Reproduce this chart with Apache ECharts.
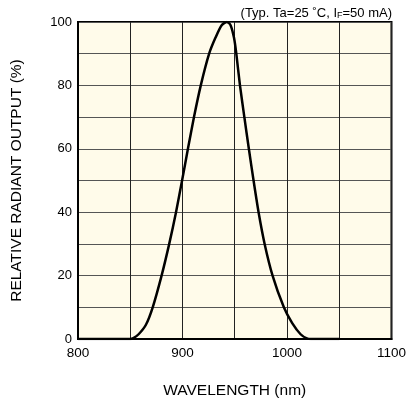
<!DOCTYPE html>
<html>
<head>
<meta charset="utf-8">
<script src="https://cdn.jsdelivr.net/npm/echarts@6/dist/echarts.min.js"></script>
<style>html,body{margin:0;padding:0;background:#fff}#c{width:409px;height:404px}</style>
</head>
<body>
<div id="c"></div>
<script>
var wavelengths = [800, 850, 853, 858, 865, 871.5, 880, 887.3, 893.8, 899.6, 905.2, 911, 917.5, 925.5, 931.5, 937.5, 942.5, 946, 949.3, 951.5, 955, 959.2, 963.5, 968, 972.8, 978.6, 986.2, 997, 1005, 1013, 1019, 1023, 1050];
var output = [0, 0, 0.3, 1.5, 4.5, 10, 20, 30, 40, 50, 60, 70, 80, 90, 95, 99, 100, 99, 95, 90, 80, 70, 60, 50, 40, 30, 20, 10, 5, 1.5, 0.2, 0, 0];
var xTicks = [800, 900, 1000, 1100];
var yTicks = [0, 20, 40, 60, 80, 100];

var pts = wavelengths.map(function (w, i) { return [w, output[i]]; });
var font = '"Liberation Sans", Arial, Helvetica, sans-serif';
var chart = echarts.init(document.getElementById('c'));
chart.setOption({
  animation: false,
  title: {
    text: '(Typ. Ta=25 ˚C, I{s|F}=50 mA)',
    right: 12, top: 2,
    textStyle: {
      fontFamily: font, fontSize: 13, fontWeight: 'normal', color: '#000',
      rich: { s: { fontFamily: font, fontSize: 9, color: '#000', verticalAlign: 'bottom', padding: [3, 0, 0, 0] } }
    }
  },
  grid: {
    left: 78, right: 13, top: 22, bottom: 65,
    show: true, backgroundColor: '#fffbea', borderColor: '#000', borderWidth: 2
  },
  xAxis: {
    type: 'value', min: 800, max: 1100, interval: 50,
    name: 'WAVELENGTH (nm)', nameLocation: 'middle', nameGap: 44,
    nameTextStyle: { fontFamily: font, fontSize: 15.5, color: '#000' },
    axisLine: { show: true, lineStyle: { color: '#000', width: 2 } },
    axisTick: { show: false },
    axisLabel: {
      fontFamily: font, fontSize: 13.5, color: '#000', margin: 7,
      formatter: function (v) { return xTicks.indexOf(v) >= 0 ? String(v) : ''; }
    },
    splitLine: { show: true, lineStyle: { color: '#222', width: 1 } }
  },
  yAxis: {
    type: 'value', min: 0, max: 100, interval: 10,
    name: 'RELATIVE RADIANT OUTPUT (%)', nameLocation: 'middle', nameGap: 53,
    nameTextStyle: { fontFamily: font, fontSize: 15.5, color: '#000' },
    axisLine: { show: true, lineStyle: { color: '#000', width: 2 } },
    axisTick: { show: false },
    axisLabel: {
      fontFamily: font, fontSize: 13, color: '#000', margin: 6,
      formatter: function (v) { return yTicks.indexOf(v) >= 0 ? String(v) : ''; }
    },
    splitLine: { show: true, lineStyle: { color: '#555', width: 1 } }
  },
  series: [{
    type: 'line', data: pts, smooth: 0.25, showSymbol: false, symbol: 'none',
    lineStyle: { color: '#000', width: 2.5 }
  }]
});
</script>
</body>
</html>
